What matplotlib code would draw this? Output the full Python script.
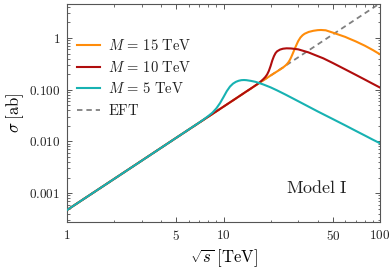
import matplotlib
matplotlib.use("Agg")
import matplotlib.pyplot as plt
from matplotlib.ticker import FixedLocator, FixedFormatter, NullFormatter

plt.rcParams['mathtext.fontset'] = 'cm'
plt.rcParams['font.family'] = 'serif'
plt.rcParams['font.serif'] = ['DejaVu Serif']

# EFT line (straight in log-log), end points
E_eft = [1, 100]
sig_eft = [4.7e-4, 4.7]

# M = 5 TeV
E_m5 = [1, 2, 3, 5, 7, 7.5, 8, 8.5, 9, 9.5, 10, 10.5, 11, 11.5, 12, 12.5, 13,
        13.5, 14, 15, 16, 17, 18, 20, 22, 25, 30, 40, 50, 60, 70, 80, 90, 100]
sig_m5 = [4.7e-4, 1.88e-3, 4.23e-3, 0.0118, 0.0232, 0.0268, 0.031, 0.036,
          0.0435, 0.055, 0.072, 0.094, 0.115, 0.131, 0.142, 0.149, 0.153,
          0.154, 0.153, 0.148, 0.142, 0.134, 0.126, 0.111, 0.097, 0.080,
          0.060, 0.038, 0.027, 0.0204, 0.016, 0.013, 0.0108, 0.0092]

# M = 10 TeV
E_m10 = [1, 2, 5, 10, 12, 14, 15, 16, 17, 17.5, 18, 18.5, 19, 19.5, 20, 20.5,
         21, 21.5, 22, 23, 24, 25.3, 27, 30, 34.8, 38.4, 43.4, 50, 60, 70,
         80, 90, 100]
sig_m10 = [4.7e-4, 1.88e-3, 0.0118, 0.047, 0.0677, 0.0925, 0.106, 0.121,
           0.138, 0.149, 0.161, 0.176, 0.197, 0.232, 0.288, 0.368, 0.445,
           0.51, 0.553, 0.598, 0.621, 0.632, 0.628, 0.604, 0.529, 0.469,
           0.405, 0.328, 0.247, 0.194, 0.157, 0.130, 0.11]

# M = 15 TeV
E_m15 = [1, 2, 5, 10, 15, 20, 22, 23, 24, 25, 25.5, 26, 26.5, 27, 27.5, 28,
         28.5, 29, 30, 31, 32, 33, 35, 37.5, 40, 42, 45, 50, 55, 60, 62.7, 70,
         80, 90, 100]
sig_m15 = [4.7e-4, 1.88e-3, 0.0118, 0.047, 0.106, 0.188, 0.226, 0.246, 0.268,
           0.297, 0.316, 0.340, 0.373, 0.418, 0.474, 0.54, 0.615, 0.695, 0.87,
           1.02, 1.13, 1.21, 1.31, 1.38, 1.42, 1.43, 1.41, 1.27, 1.15, 1.05,
           0.99, 0.86, 0.71, 0.585, 0.484]

x_major = [1, 5, 10, 50, 100]
x_labels = ['1', '5', '10', '50', '100']
x_minor = [2, 3, 4, 6, 7, 8, 9, 20, 30, 40, 60, 70, 80, 90]
y_major = [0.001, 0.01, 0.1, 1]
y_labels = ['0.001', '0.010', '0.100', '1']
y_minor = [m * 10.0**k for k in range(-4, 1) for m in range(2, 10)]

fig = plt.figure(figsize=(3.9, 2.76), dpi=100)
ax = fig.add_axes([67/390, 1 - 222/276, 313/390, 218/276])

ax.plot(E_eft, sig_eft, color='#808080', lw=1.3, ls=(0, (3, 2.2)),
        label=r'$\mathrm{EFT}$', zorder=1)
ax.plot(E_m15, sig_m15, color='#FF8C0A', lw=1.5,
        label=r'$M\,=\,15\ \mathrm{TeV}$', zorder=2)
ax.plot(E_m10, sig_m10, color='#B00D0D', lw=1.5,
        label=r'$M\,=\,10\ \mathrm{TeV}$', zorder=3)
ax.plot(E_m5, sig_m5, color='#17B2B2', lw=1.5,
        label=r'$M\,=\,5\ \mathrm{TeV}$', zorder=4)

ax.set_xscale('log')
ax.set_yscale('log')
ax.set_xlim(1, 100)
ax.set_ylim(2.76e-4, 4.55)

ax.xaxis.set_major_locator(FixedLocator(x_major))
ax.xaxis.set_major_formatter(FixedFormatter([r'$\mathrm{%s}$' % s for s in x_labels]))
ax.xaxis.set_minor_locator(FixedLocator(x_minor))
ax.xaxis.set_minor_formatter(NullFormatter())
ax.yaxis.set_major_locator(FixedLocator(y_major))
ax.yaxis.set_major_formatter(FixedFormatter([r'$\mathrm{%s}$' % s for s in y_labels]))
ax.yaxis.set_minor_locator(FixedLocator(y_minor))
ax.yaxis.set_minor_formatter(NullFormatter())

ax.tick_params(which='both', direction='in', top=True, right=True,
               color='#555555', labelcolor='#222222', labelsize=9.5)
ax.tick_params(which='major', length=3.5, width=0.7, pad=5)
ax.tick_params(which='minor', length=1.8, width=0.6)
for sp in ax.spines.values():
    sp.set_color('#555555')
    sp.set_linewidth(0.8)

ax.set_xlabel(r'$\sqrt{s}\;[\mathrm{TeV}]$', fontsize=12, labelpad=3)
ax.set_ylabel(r'$\sigma\;[\mathrm{ab}]$', fontsize=12, labelpad=2)

ax.text(0.80, 0.155, r'$\mathrm{Model\ I}$', transform=ax.transAxes,
        fontsize=13, ha='center', va='center', color='#222222')

h, l = ax.get_legend_handles_labels()
order = [1, 2, 3, 0]
leg = ax.legend([h[i] for i in order], [l[i] for i in order], loc='upper left',
                bbox_to_anchor=(0.0, 0.89), frameon=False, fontsize=10.5,
                handlelength=1.55, handletextpad=0.55, labelspacing=0.45,
                borderaxespad=0.3)
for t in leg.get_texts():
    t.set_color('#222222')

fig.savefig('out.png', dpi=100)
